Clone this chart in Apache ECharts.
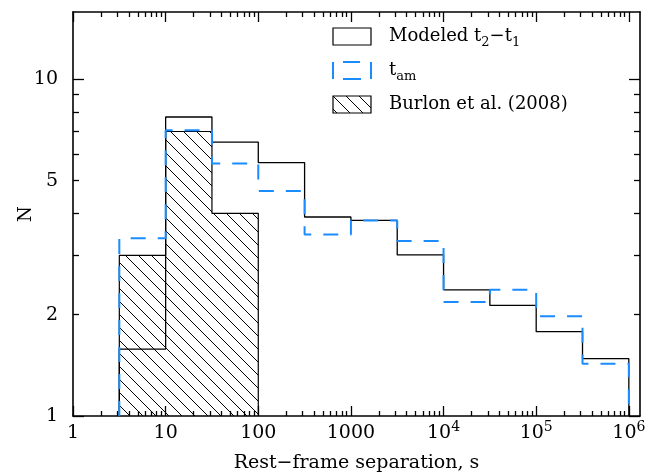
<!DOCTYPE html>
<html>
<head>
<meta charset="utf-8">
<title>Rest-frame separation</title>
<script src="https://cdn.jsdelivr.net/npm/echarts@6/dist/echarts.min.js"></script>
<style>
    html, body {margin: 0; padding: 0; background: #fff;}
    #main {width: 649px; height: 476px;}
</style>
</head>
<body>
<div id="main"></div>
<script type="text/javascript">
    // half-decade bins
    var binEdges = [3.162, 10, 31.62, 100, 316.2, 1000, 3162, 10000, 31620, 100000, 316200, 1000000];
    var modeled = [1.58, 7.73, 6.51, 5.66, 3.90, 3.81, 3.01, 2.37, 2.13, 1.78, 1.48];
    var tam = [3.37, 7.06, 5.62, 4.66, 3.46, 3.81, 3.31, 2.18, 2.37, 1.98, 1.43];
    var burlonEdges = [3.162, 10, 31.62, 100];
    var burlon = [3, 7, 4];

    var xMajorTicks = [1, 10, 100, 1000, 1e4, 1e5, 1e6];
    var xTickLabels = ['1', '10', '100', '1000', '10{sup|4}', '10{sup|5}', '10{sup|6}'];
    var yMajorTicks = [1, 10];
    var yMinorTicks = [2, 3, 4, 5, 6, 7, 8, 9];
    var yLabelValues = [1, 2, 5, 10];
    var yTickLabels = ['1', '2', '5', '10'];

    var xMin = 1, xMax = 1.32e6;
    var yMin = 1, yMax = 15.85;
    var blue = '#1a8cff';
    var font = 'DejaVu Serif';

    // minor ticks 2..9 in every decade
    var xMinorTicks = [];
    for (var d = 0; d < 6; d++) {
        for (var m = 2; m < 10; m++) xMinorTicks.push(m * Math.pow(10, d));
    }

    // outline of a histogram, closed down to the axis bottom
    function histLine(edges, vals) {
        var pts = [[edges[0], yMin]];
        for (var i = 0; i < vals.length; i++) {
            pts.push([edges[i], vals[i]]);
            pts.push([edges[i + 1], vals[i]]);
        }
        pts.push([edges[edges.length - 1], yMin]);
        return pts;
    }

    function hatch(size) {
        var c = document.createElement('canvas');
        c.width = size; c.height = size;
        var g = c.getContext('2d');
        g.strokeStyle = '#000';
        g.lineWidth = 1;
        for (var k = -1; k <= 1; k++) {
            g.beginPath();
            g.moveTo(-1, -1 + k * size);
            g.lineTo(size + 1, size + 1 + k * size);
            g.stroke();
        }
        return c;
    }
    var hatchFill = {image: hatch(13), repeat: 'repeat'};

    function xAxisDef(pos, ticks, len, main) {
        return {
            type: 'log', logBase: 10, min: xMin, max: xMax, position: pos,
            axisLine: {show: main, onZero: false, lineStyle: {color: '#000', width: 1.6}},
            axisTick: {inside: true, length: len, customValues: ticks, lineStyle: {color: '#000', width: 1.3}},
            axisLabel: {
                show: main && pos === 'bottom',
                customValues: xMajorTicks,
                margin: 4,
                color: '#000', fontFamily: font, fontSize: 19, lineHeight: 26,
                formatter: function (v) { return xTickLabels[Math.round(Math.log10(v))]; },
                rich: {sup: {fontSize: 14, lineHeight: 14, padding: [0, 0, 12, 0], fontFamily: font, color: '#000'}}
            },
            splitLine: {show: false},
            name: main && pos === 'bottom' ? 'Rest\u2212frame separation, s' : '',
            nameLocation: 'middle', nameGap: 38,
            nameTextStyle: {color: '#000', fontFamily: font, fontSize: 19}
        };
    }

    function yAxisDef(pos, ticks, len, main) {
        return {
            type: 'log', logBase: 10, min: yMin, max: yMax, position: pos,
            axisLine: {show: main, onZero: false, lineStyle: {color: '#000', width: 1.6}},
            axisTick: {inside: true, length: len, customValues: ticks, lineStyle: {color: '#000', width: 1.3}},
            axisLabel: {
                show: main && pos === 'left',
                customValues: yLabelValues,
                margin: 15,
                color: '#000', fontFamily: font, fontSize: 19,
                formatter: function (v) { return yTickLabels[yLabelValues.indexOf(Math.round(v))]; }
            },
            splitLine: {show: false},
            name: main && pos === 'left' ? 'N' : '',
            nameLocation: 'middle', nameGap: 38, nameMoveOverlap: false,
            nameTextStyle: {color: '#000', fontFamily: font, fontSize: 18}
        };
    }

    var legendLabels = {
        'Modeled': '{gap|}Modeled t{sub|2}\u2212t{sub|1}',
        'tam': '{gap|}t{sub|am}',
        'Burlon': '{gap|}Burlon et al. (2008)'
    };

    var myChart = echarts.init(document.getElementById('main'));
    var option = {
        animation: false,
        backgroundColor: '#fff',
        grid: {left: 73, right: 9, top: 12, bottom: 60, containLabel: false, outerBoundsMode: 'none'},
        xAxis: [
            xAxisDef('bottom', xMajorTicks, 10, true),
            xAxisDef('bottom', xMinorTicks, 5, false),
            xAxisDef('top', xMajorTicks, 10, true),
            xAxisDef('top', xMinorTicks, 5, false)
        ],
        yAxis: [
            yAxisDef('left', yMajorTicks, 11, true),
            yAxisDef('left', yMinorTicks, 6, false),
            yAxisDef('right', yMajorTicks, 11, true),
            yAxisDef('right', yMinorTicks, 6, false)
        ],
        legend: {
            orient: 'vertical', left: 332, top: 24, padding: 0,
            itemWidth: 38, itemHeight: 17, itemGap: 9,
            icon: 'rect', selectedMode: false,
            textStyle: {
                color: '#000', fontFamily: font, fontSize: 18, lineHeight: 25,
                rich: {
                    gap: {width: 13},
                    sub: {fontSize: 13, lineHeight: 13, padding: [12, 0, 0, 0], fontFamily: font, color: '#000'}
                }
            },
            formatter: function (name) { return legendLabels[name]; },
            data: [
                {name: 'Modeled', itemStyle: {color: '#fff', borderColor: '#000', borderWidth: 1.2}},
                // dashes laid out round the box: gap, top dash, right side, bottom dash, left side
                {name: 'tam', itemStyle: {color: 'rgba(0,0,0,0)', borderColor: blue, borderWidth: 2,
                    borderType: [0, 10, 17, 11, 17, 10, 18, 10, 17, 0]}},
                {name: 'Burlon', itemStyle: {color: hatchFill, borderColor: '#000', borderWidth: 1.2}}
            ]
        },
        series: [
            {
                name: 'Burlon', type: 'line', z: 2,
                data: histLine(burlonEdges, burlon),
                showSymbol: false, symbol: 'none',
                lineStyle: {color: '#000', width: 1.2},
                itemStyle: {color: '#000'},
                areaStyle: {color: hatchFill, opacity: 1, origin: 'start'}
            },
            {
                name: 'Modeled', type: 'line', z: 3,
                data: histLine(binEdges, modeled),
                showSymbol: false, symbol: 'none',
                lineStyle: {color: '#000', width: 1.3},
                itemStyle: {color: '#000'}
            },
            {
                name: 'tam', type: 'line', z: 4,
                data: histLine(binEdges, tam),
                showSymbol: false, symbol: 'none',
                lineStyle: {color: blue, width: 2, type: [15, 12]},
                itemStyle: {color: blue}
            }
        ]
    };
    myChart.setOption(option);
</script>
</body>
</html>
